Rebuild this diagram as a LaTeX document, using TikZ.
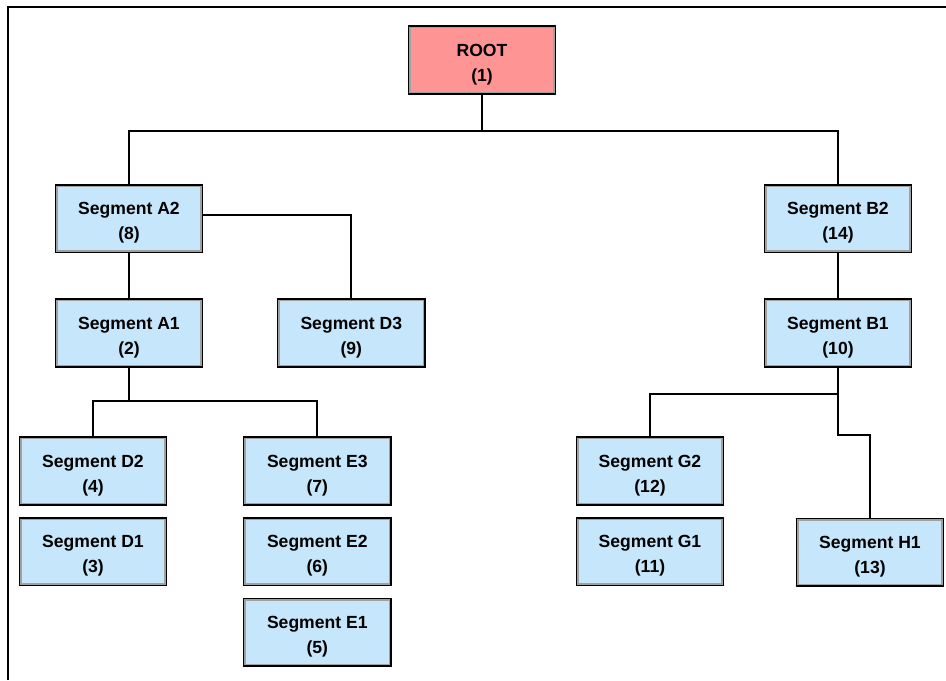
\documentclass[tikz,border=0pt]{standalone}
\usepackage{fontspec}
\setmainfont{Liberation Sans}
\setsansfont{Liberation Sans}
\usetikzlibrary{positioning}
\definecolor{cSeg}{HTML}{C6E7FB}
\definecolor{cRoot}{HTML}{FF9494}
\definecolor{cEdge}{HTML}{A0A0A0}
\tikzset{
  font=\sffamily\bfseries,
  segbox/.style={draw=black, line width=1.4pt, fill=cSeg,
    minimum width=4.42cm, minimum height=2.03cm, inner sep=0pt,
    align=center, font=\sffamily\bfseries\fontsize{15}{21.5}\selectfont,
    text height=1.4cm, text depth=0.12cm,
    path picture={\draw[cEdge, line width=3.8pt]
      (path picture bounding box.south west) rectangle
      (path picture bounding box.north east);}},
  rootbox/.style={segbox, fill=cRoot},
  link/.style={draw=black, line width=1.7pt},
  frameline/.style={draw=black, line width=1.7pt},
}
\begin{document}
\begin{tikzpicture}

  % ----------------------------------------------------------------
  % Canvas and open frame (top and left edge only)
  % ----------------------------------------------------------------
  \useasboundingbox (-14.46,-18.6) rectangle (13.92,1.8);
  \coordinate (frameBL) at (-14.22,-18.6);
  \coordinate (frameTL) at (-14.22,1.59);
  \coordinate (frameTR) at (13.92,1.59);
  \draw[frameline] (frameBL) -- (frameTL) -- (frameTR);

  % ----------------------------------------------------------------
  % Root and second level
  % ----------------------------------------------------------------
  \node[rootbox] (root) at (0,0) {ROOT\\(1)};

  \node[segbox, below=2.68cm of root, xshift=-10.59cm] (a2) {Segment A2\\(8)};
  \node[segbox, below=2.68cm of root, xshift=10.68cm] (b2) {Segment B2\\(14)};

  % ----------------------------------------------------------------
  % Third level
  % ----------------------------------------------------------------
  \node[segbox, below=1.35cm of a2] (a1) {Segment A1\\(2)};
  \node[segbox, right=2.2cm of a1] (d3) {Segment D3\\(9)};
  \node[segbox, below=1.35cm of b2] (b1) {Segment B1\\(10)};

  % ----------------------------------------------------------------
  % Leaf stacks
  % ----------------------------------------------------------------
  \node[segbox, below=2.06cm of a1, xshift=-1.08cm] (d2) {Segment D2\\(4)};
  \node[segbox, below=0.34cm of d2] (d1) {Segment D1\\(3)};

  \node[segbox, right=2.26cm of d2] (e3) {Segment E3\\(7)};
  \node[segbox, below=0.34cm of e3] (e2) {Segment E2\\(6)};
  \node[segbox, below=0.34cm of e2] (e1) {Segment E1\\(5)};

  \node[segbox, below=2.06cm of b1, xshift=-5.64cm] (g2) {Segment G2\\(12)};
  \node[segbox, below=0.34cm of g2] (g1) {Segment G1\\(11)};

  \node[segbox, below=4.5cm of b1, xshift=0.96cm] (h1) {Segment H1\\(13)};

  % ----------------------------------------------------------------
  % Connectors
  % ----------------------------------------------------------------
  \draw[link] (root.south) -- ++(0,-1.08) -| (a2.north);
  \draw[link] (root.south) -- ++(0,-1.08) -| (b2.north);

  \draw[link] (a2) -- (a1);
  \draw[link] ([yshift=0.1cm]a2.east) -| (d3.north);
  \draw[link] (a1.south) -- ++(0,-0.99) -| (d2.north);
  \draw[link] (a1.south) -- ++(0,-0.99) -| (e3.north);

  \draw[link] (b2) -- (b1);
  \draw[link] (b1.south) -- ++(0,-0.78) -| (g2.north);
  \draw[link] (b1.south) -- ++(0,-2.01) -| (h1.north);

\end{tikzpicture}
\end{document}
